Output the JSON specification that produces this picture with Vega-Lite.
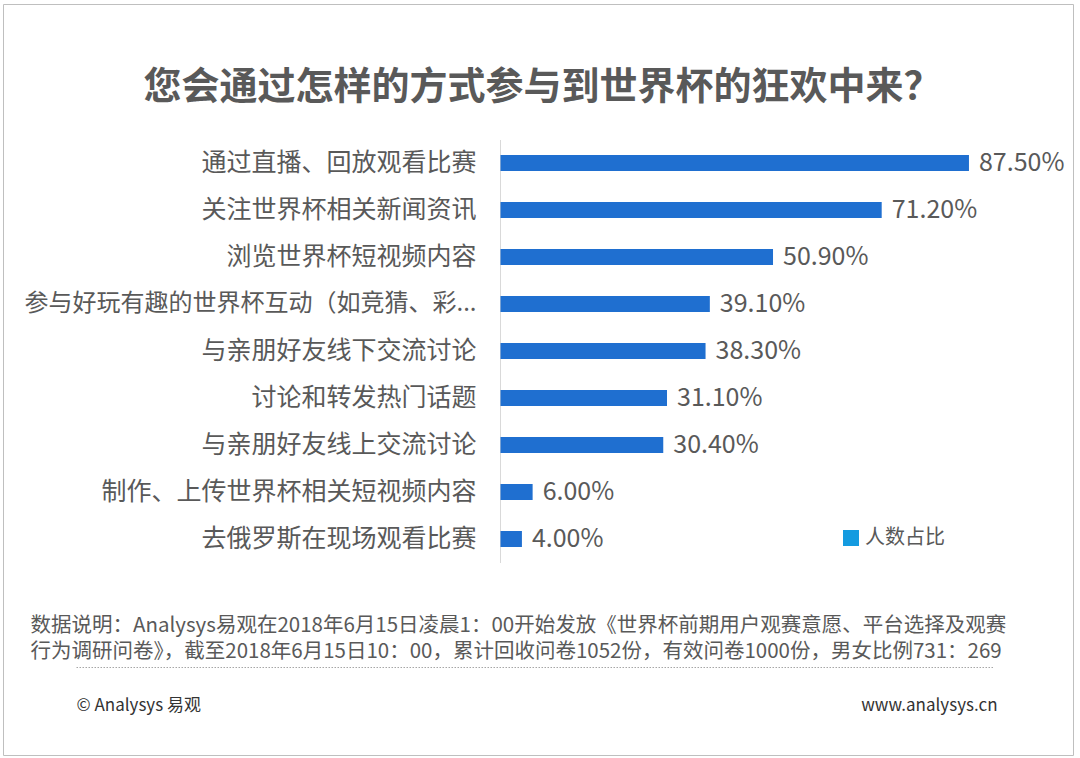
{
  "$schema": "https://vega.github.io/schema/vega-lite/v6.json",
  "description": "您会通过怎样的方式参与到世界杯的狂欢中来？",
  "autosize": "none",
  "width": 1070,
  "height": 751,
  "padding": {"left": 3, "top": 4, "right": 7, "bottom": 3},
  "background": "#ffffff",
  "data": {
    "values": [
      {"item": "通过直播、回放观看比赛", "share": 0.875, "series": "人数占比"},
      {"item": "关注世界杯相关新闻资讯", "share": 0.712, "series": "人数占比"},
      {"item": "浏览世界杯短视频内容", "share": 0.509, "series": "人数占比"},
      {"item": "参与好玩有趣的世界杯互动（如竞猜、彩...", "share": 0.391, "series": "人数占比"},
      {"item": "与亲朋好友线下交流讨论", "share": 0.383, "series": "人数占比"},
      {"item": "讨论和转发热门话题", "share": 0.311, "series": "人数占比"},
      {"item": "与亲朋好友线上交流讨论", "share": 0.304, "series": "人数占比"},
      {"item": "制作、上传世界杯相关短视频内容", "share": 0.06, "series": "人数占比"},
      {"item": "去俄罗斯在现场观看比赛", "share": 0.04, "series": "人数占比"}
    ]
  },
  "layer": [
    {
      "mark": {"type": "bar", "color": "#1f6fd0"},
      "encoding": {
        "y": {
          "field": "item",
          "type": "nominal",
          "sort": null,
          "scale": {"range": [135.5, 558.5], "paddingInner": 0.66, "paddingOuter": 0.33},
          "axis": {
            "orient": "left",
            "offset": -497,
            "ticks": false,
            "domainColor": "#d9d9d9",
            "domainWidth": 1,
            "labelPadding": 24,
            "labelLimit": 700,
            "labelFontSize": {"condition": {"test": "length(datum.value) > 16", "value": 24}, "value": 25},
            "labelColor": "#595959",
            "title": "© Analysys 易观",
            "titleAngle": 0,
            "titleX": -424,
            "titleY": 701,
            "titleAlign": "left",
            "titleBaseline": "middle",
            "titleFontSize": 17,
            "titleFontWeight": "normal",
            "titleColor": "#333333"
          }
        },
        "x": {
          "field": "share",
          "type": "quantitative",
          "scale": {"domain": [-0.7929, 0.9199], "range": [73, 990], "nice": false, "zero": false},
          "axis": {
            "orient": "bottom",
            "offset": -88,
            "labels": false,
            "ticks": false,
            "grid": false,
            "domainColor": "#a6a6a6",
            "domainDash": [1.5, 1.5],
            "domainWidth": 1,
            "title": [
              "数据说明：Analysys易观在2018年6月15日凌晨1：00开始发放《世界杯前期用户观赛意愿、平台选择及观赛",
              "行为调研问卷》，截至2018年6月15日10：00，累计回收问卷1052份，有效问卷1000份，男女比例731：269"
            ],
            "titleX": 27,
            "titleY": -42,
            "titleAlign": "left",
            "titleBaseline": "middle",
            "titleLineHeight": 26,
            "titleFontSize": 20.5,
            "titleFontWeight": "normal",
            "titleColor": "#595959"
          }
        },
        "x2": {"datum": 0}
      }
    },
    {
      "mark": {"type": "bar", "opacity": 0},
      "encoding": {
        "y": {"field": "item", "type": "nominal", "sort": null, "axis": null},
        "x": {"field": "share", "type": "quantitative", "axis": null},
        "x2": {"datum": 0},
        "color": {
          "field": "series",
          "type": "nominal",
          "scale": {"range": ["#149be0"]},
          "legend": {
            "title": null,
            "orient": "none",
            "legendX": 838,
            "legendY": 524,
            "padding": 0,
            "symbolType": "square",
            "symbolSize": 256,
            "symbolOpacity": 1,
            "symbolStrokeWidth": 0,
            "labelFontSize": 20,
            "labelColor": "#595959",
            "labelOffset": 4
          }
        }
      }
    },
    {
      "mark": {"type": "text", "align": "left", "baseline": "middle", "dx": 10, "fontSize": 25, "color": "#595959"},
      "encoding": {
        "y": {
          "field": "item",
          "type": "nominal",
          "sort": null,
          "axis": {
            "orient": "right",
            "labels": false,
            "ticks": false,
            "domain": false,
            "grid": false,
            "title": "www.analysys.cn",
            "titleAngle": 0,
            "titleX": -76,
            "titleY": 701,
            "titleAlign": "right",
            "titleBaseline": "middle",
            "titleFontSize": 17,
            "titleFontWeight": "normal",
            "titleColor": "#333333"
          }
        },
        "x": {
          "field": "share",
          "type": "quantitative",
          "axis": {
            "orient": "top",
            "labels": false,
            "ticks": false,
            "domain": false,
            "grid": false,
            "title": "您会通过怎样的方式参与到世界杯的狂欢中来？",
            "titleX": 539,
            "titleY": 83,
            "titleAlign": "center",
            "titleBaseline": "middle",
            "titleFontSize": 38,
            "titleFontWeight": "bold",
            "titleColor": "#595959"
          }
        },
        "text": {"field": "share", "type": "quantitative", "format": ".2%"}
      }
    }
  ],
  "resolve": {"axis": {"x": "independent", "y": "independent"}},
  "config": {
    "font": "Noto Sans CJK SC",
    "view": {"stroke": "#bfbfbf", "strokeWidth": 1},
    "axis": {"labelFont": "Noto Sans CJK SC", "titleFont": "Noto Sans CJK SC"},
    "legend": {"labelFont": "Noto Sans CJK SC"}
  }
}
